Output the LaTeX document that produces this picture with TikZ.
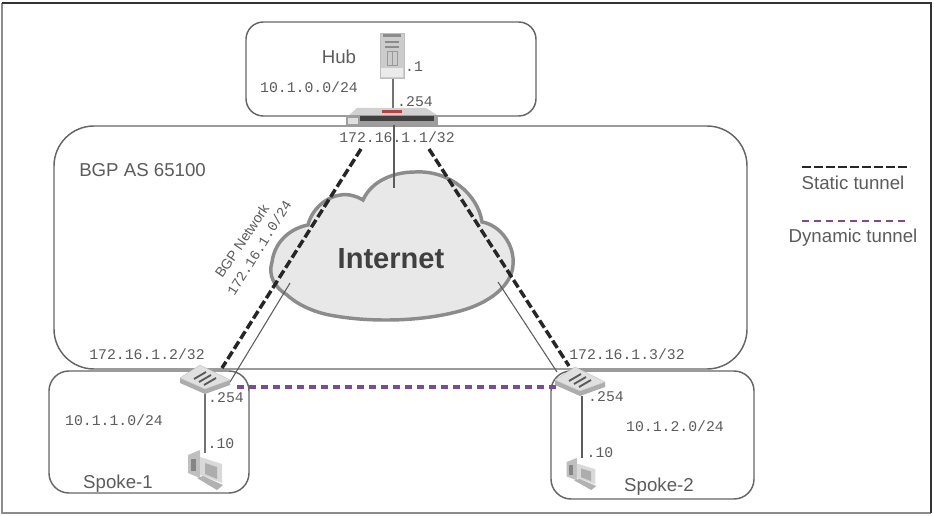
\documentclass[tikz,border=0pt]{standalone}
\usepackage{fontspec}
\setmainfont{Liberation Sans}
\setmonofont{Liberation Mono}
\usetikzlibrary{calc}
\definecolor{ink}{gray}{0.36}
\definecolor{edge}{gray}{0.40}
\definecolor{purp}{HTML}{7A4B9A}
\tikzset{
  x=0.75pt,y=-0.75pt,
  zone/.style={draw=edge,line width=1.1pt,rounded corners=13pt,fill=white},
  lbl/.style={text=ink,font=\fontsize{14}{16}\selectfont,inner sep=0pt},
  addr/.style={text=ink,font=\ttfamily\fontsize{11.1}{13}\selectfont,inner sep=0pt},
  wire/.style={draw=ink,line width=0.8pt},
  thickwire/.style={draw=black!55,line width=1.2pt},
  statictun/.style={draw=black!85,line width=2.6pt,dash pattern=on 6.5pt off 2.5pt},
  dyntun/.style={draw=purp,line width=2.4pt,dash pattern=on 5pt off 4pt},
}
\begin{document}
\begin{tikzpicture}
\useasboundingbox (0,0) rectangle (934,516);
\fill[white] (0,0) rectangle (934,516);
\draw[black!45,line width=1.4pt] (2,3) -- (2,513) -- (931,513);
\draw[black!80,line width=1.1pt] (2,3) -- (931,3) -- (931,513);
% zones
\draw[zone,rounded corners=30pt] (54,126) rectangle (747,369);
\draw[zone] (246,22) rectangle (536,116);
\draw[zone,rounded corners=15pt] (49,371) rectangle (249,493);
\draw[zone,rounded corners=15pt] (551,371) rectangle (754,499);
% cloud
\path[draw=black!45,fill=black!9,line width=2.6pt]
  (287,295) .. controls (274,287) and (268,275) .. (272,262)
  .. controls (275,240) and (292,228) .. (308,225)
  .. controls (312,208) and (330,192) .. (350,195)
  .. controls (355,196) and (360,198) .. (363,200)
  .. controls (372,180) and (395,172) .. (415,172)
  .. controls (450,170) and (478,195) .. (482,222)
  .. controls (500,225) and (515,245) .. (513,265)
  .. controls (512,285) and (490,303) .. (460,311)
  .. controls (420,322) and (370,322) .. (335,316)
  .. controls (315,313) and (298,305) .. (287,295) -- cycle;
\node[font=\bfseries\fontsize{21.8}{26}\selectfont,text=black!75,inner sep=0pt] (inet) at (391,259) {Internet};
% anchors
\coordinate (srv) at (393,78);
\coordinate (fwtop) at (393,110);
\coordinate (fwbot) at (394,124);
\coordinate (cloudtop) at (394,188);
\coordinate (cloudl) at (290,283);
\coordinate (cloudr) at (498,282);
\coordinate (s1a) at (230,382);
\coordinate (s2a) at (557,372);
\coordinate (ft1) at (361,149);
\coordinate (ft2) at (429,149);
\coordinate (s1t) at (222,368);
\coordinate (s2t) at (569,366);
\coordinate (dyn1) at (237,387);
\coordinate (dyn2) at (557,387);
\coordinate (s1b) at (205,392);
\coordinate (pc1t) at (205,453);
\coordinate (s2b) at (582,396);
\coordinate (pc2t) at (582,458);
% wires
\draw[thickwire] (srv) -- (fwtop);
\draw[wire] (fwbot) -- (cloudtop);
\draw[wire] (cloudl) -- (s1a);
\draw[wire] (cloudr) -- (s2a);
\draw[thickwire] (s1b) -- (pc1t);
\draw[wire] (s2b) -- (pc2t);
% tunnels
\draw[statictun] (ft1) -- (s1t);
\draw[statictun] (ft2) -- (s2t);
\draw[dyntun] (dyn1) -- (dyn2);
% hub server
\fill[black!20] (380,33) rectangle (404,78);
\fill[black!8] (381,68) rectangle (403,77);
\draw[black!25,line width=0.4pt] (380,33) rectangle (404,78);
\fill[black!45] (383,34.5) rectangle (401,37);
\fill[black!45] (385,41) rectangle (399,43);
\fill[black!45] (385,46) rectangle (399,48);
\draw[black!40,line width=0.4pt] (387,51) rectangle (397,65) (392,51)--(392,65);
% hub firewall
\fill[black!18] (349,115) -- (357,108) -- (426,108) -- (437,115) -- cycle;
\fill[black!38] (346,115) rectangle (438,125);
\fill[black!75] (360,116.5) rectangle (434,121);
\fill[black!12] (348,118) rectangle (358,124);
\fill[red!65!black!75] (382,110) rectangle (402,113);
% spoke devices
\foreach \cx/\cy in {205/378, 580/380}{
 \begin{scope}[shift={(\cx,\cy)}]
  \fill[black!32] (-25,0) -- (0,11) -- (25,2) -- (25,7) -- (0,16) -- (-25,5) -- cycle;
  \fill[black!12,draw=black!25,line width=0.3pt] (-25,0) -- (-5,-13) -- (25,2) -- (0,11) -- cycle;
  \foreach \d in {-5,0,5}{\draw[black!65,line width=1.4pt] (-6+\d,4+0.6*\d) -- (6+\d,-3+0.6*\d);}
 \end{scope}
}
% PCs
\foreach \cx/\cy/\sx/\sy in {205/470/1/1, 581/474/0.85/0.8}{
 \begin{scope}[shift={(\cx,\cy)},xscale=\sx,yscale=\sy]
  \fill[black!25] (-17,-15) -- (-5,-20) -- (-5,8) -- (-17,3) -- cycle;
  \fill[black!48] (-14,-11) rectangle (-9,1);
  \fill[black!15] (-5,-13) -- (17,-6) -- (17,13) -- (-5,5) -- cycle;
  \fill[black!32] (0,-7) -- (12,-3) -- (12,9) -- (0,4) -- cycle;
  \fill[black!30] (-8,8) -- (-2,6) -- (18,15) -- (12,20) -- cycle;
 \end{scope}
}
% labels
\node[lbl] (lhub) at (339,57) {Hub};
\node[addr] (n1) at (309,87) {10.1.0.0/24};
\node[addr] (n2) at (414,67) {.1};
\node[addr] (n3) at (415,102) {.254};
\node[addr] (n4) at (397,137) {172.16.1.1/32};
\node[lbl,anchor=west] (bgp) at (79,170) {BGP AS 65100};
\node[lbl,font=\fontsize{10.5}{12}\selectfont,rotate=56] (bn1) at (242,241) {BGP Network};
\node[addr,rotate=58,font=\ttfamily\fontsize{10.5}{12}\selectfont] (bn2) at (259,248) {172.16.1.0/24};
\node[addr] (n5) at (147,354) {172.16.1.2/32};
\node[addr] (n6) at (627,354) {172.16.1.3/32};
\node[addr] (n7) at (226,398) {.254};
\node[addr] (n8) at (114,420) {10.1.1.0/24};
\node[addr] (n9) at (221,444) {.10};
\node[lbl] (sp1) at (118,484) {Spoke-1};
\node[addr] (n10) at (606,397) {.254};
\node[addr] (n11) at (675,426) {10.1.2.0/24};
\node[addr] (n12) at (600,453) {.10};
\node[lbl] (sp2) at (659,487) {Spoke-2};
% legend
\coordinate (l1a) at (802,167);
\coordinate (l1b) at (910,167);
\coordinate (l2a) at (802,221);
\coordinate (l2b) at (910,221);
\draw[statictun,line width=2pt] (l1a) -- (l1b);
\draw[dyntun,line width=2.2pt] (l2a) -- (l2b);
\node[lbl] (leg1) at (853,183) {Static tunnel};
\node[lbl] (leg2) at (853,238) {Dynamic tunnel};
\end{tikzpicture}
\end{document}
